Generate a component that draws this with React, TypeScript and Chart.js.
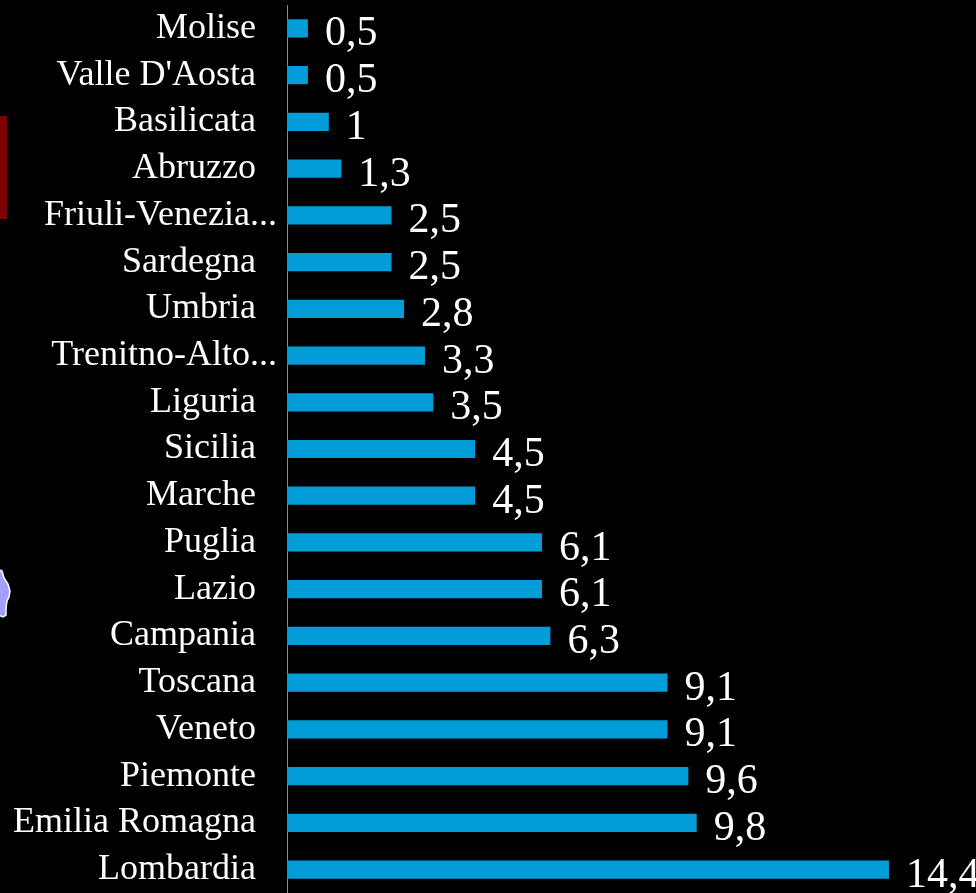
import React, { useEffect, useRef } from "react";
import { Chart, registerables } from "chart.js";

Chart.register(...registerables);

const categories = [
  "Molise", "Valle D'Aosta", "Basilicata", "Abruzzo", "Friuli-Venezia...", "Sardegna", "Umbria",
  "Trenitno-Alto...", "Liguria", "Sicilia", "Marche", "Puglia", "Lazio", "Campania", "Toscana",
  "Veneto", "Piemonte", "Emilia Romagna", "Lombardia",
];
const values = [0.5, 0.5, 1, 1.3, 2.5, 2.5, 2.8, 3.3, 3.5, 4.5, 4.5, 6.1, 6.1, 6.3, 9.1, 9.1, 9.6, 9.8, 14.4];

const SERIF = "'Liberation Serif', serif";

const valueLabels = {
  id: "valueLabels",
  afterDatasetsDraw(chart: any) {
    const { ctx } = chart;
    const meta = chart.getDatasetMeta(0);
    ctx.save();
    ctx.fillStyle = "#ffffff";
    ctx.font = `42px ${SERIF}`;
    ctx.textAlign = "left";
    ctx.textBaseline = "middle";
    meta.data.forEach((bar: any, i: number) => {
      ctx.fillText(String(values[i]).replace(".", ","), bar.x + 17, bar.y + 6);
    });
    ctx.restore();
  },
};

export default function App() {
  const ref = useRef<HTMLCanvasElement>(null);
  useEffect(() => {
    const chart = new Chart(ref.current!, {
      type: "bar",
      data: {
        labels: categories,
        datasets: [{
          data: values,
          backgroundColor: "#009DD9",
          barPercentage: 0.39,
          categoryPercentage: 1,
        }],
      },
      options: {
        indexAxis: "y",
        responsive: false,
        animation: false,
        layout: { padding: { top: 5, left: 0, right: 0, bottom: 0 } },
        plugins: { legend: { display: false }, tooltip: { enabled: false } },
        scales: {
          x: { display: false, min: 0, max: 16.48 },
          y: {
            afterFit(scale: any) {
              scale.width = 287;
              scale.paddingTop = 0;
              scale.paddingBottom = 0;
            },
            grid: { display: false, drawTicks: false },
            border: { display: true, color: "#8a8a8a", width: 1 },
            ticks: {
              autoSkip: false,
              maxRotation: 0,
              minRotation: 0,
              padding: 10,
              color: "#ffffff",
              font: { family: SERIF, size: 36 },
              // Complete names stop short of the truncated ones, as in the source chart.
              callback: (_v: any, i: number) =>
                categories[i].endsWith("...") ? categories[i] : categories[i] + "\u2002\u200A",
            },
          },
        },
      },
      plugins: [valueLabels],
    } as any);
    return () => chart.destroy();
  }, []);

  return (
    <div style={{ position: "absolute", left: 0, top: 0, width: 976, height: 893, background: "#000", overflow: "hidden" }}>
      <canvas ref={ref} width={976} height={893} style={{ display: "block" }} />
      <div style={{ position: "absolute", left: 0, top: 116, width: 7, height: 103, background: "#7f0000" }} />
      <svg style={{ position: "absolute", left: 0, top: 560 }} width={16} height={64}>
        <path d="M-2 9 L2 11 L4 18 L8 24 L10 31 L9 37 L7 41 L6 48 L6 55 L3 57 L-2 55 Z" fill="#a3a0ff" stroke="#ffffff" strokeWidth={1.5} />
      </svg>
    </div>
  );
}
